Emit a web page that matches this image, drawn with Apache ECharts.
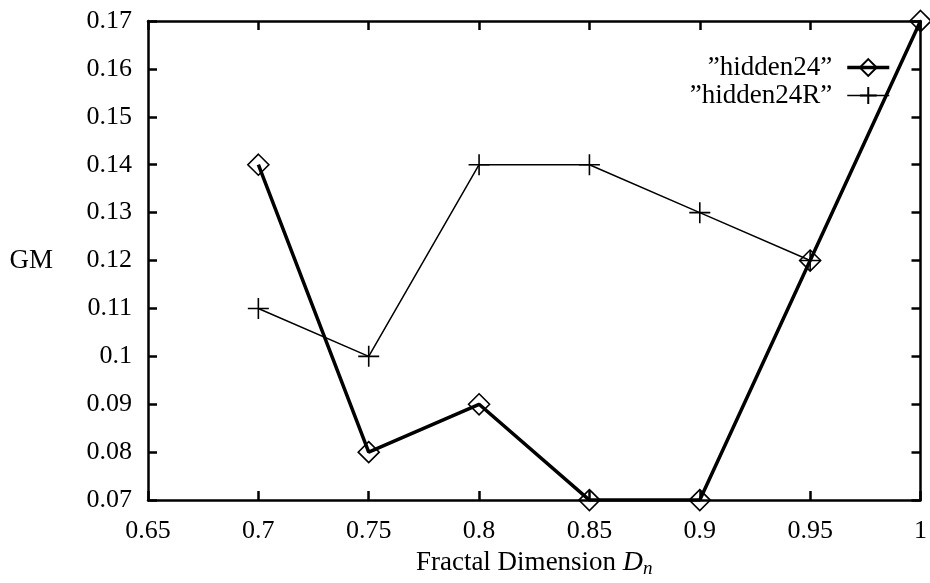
<!DOCTYPE html>
<html><head><meta charset="utf-8">
<script src="https://cdn.jsdelivr.net/npm/echarts@6/dist/echarts.min.js"></script>
<style>html,body{margin:0;padding:0;background:#fff}#c{width:930px;height:583px}</style>
</head><body><div id="c"></div>
<script>
const xValues = [0.7, 0.75, 0.8, 0.85, 0.9, 0.95, 1.0];
const hidden24 = [0.14, 0.08, 0.09, 0.07, 0.07, 0.12, 0.17];
const hidden24R = [0.11, 0.10, 0.14, 0.14, 0.13, 0.12];
const seriesNames = ['\u201dhidden24\u201d', '\u201dhidden24R\u201d'];

const FONT = 'Liberation Serif';
const fmt = v => String(+(+v).toFixed(2));
const pair = (xs, ys) => ys.map((y, i) => [xs[i], y]);

const chart = echarts.init(document.getElementById('c'));
const axisLine = {show: true, lineStyle: {color: '#000', width: 2.5}};
const axisTick = {show: true, inside: true, length: 9, lineStyle: {color: '#000', width: 2.5}};
chart.setOption({
  backgroundColor: '#fff',
  animation: false,
  grid: {left: 148, right: 7, top: 21, bottom: 75},
  legend: {
    orient: 'vertical', right: 34, top: 49, align: 'right',
    itemWidth: 42, itemHeight: 21, itemGap: 1,
    textStyle: {fontFamily: FONT, fontSize: 27, color: '#000', padding: [0, 10, 0, 0]},
    data: [
      {name: seriesNames[0], lineStyle: {width: 3.5}},
      {name: seriesNames[1], lineStyle: {width: 1.5}}
    ]
  },
  xAxis: [{
    type: 'value', min: 0.65, max: 1, interval: 0.05,
    axisLine, axisTick, splitLine: {show: false},
    axisLabel: {formatter: fmt, fontFamily: FONT, fontSize: 26, color: '#000', margin: 18},
    name: 'Fractal Dimension {i|D}{s|n}', nameLocation: 'middle', nameGap: 47,
    nameTextStyle: {fontFamily: FONT, fontSize: 27, color: '#000',
      rich: {i: {fontFamily: FONT, fontStyle: 'italic', fontSize: 28, color: '#000'},
             s: {fontFamily: FONT, fontStyle: 'italic', fontSize: 19, color: '#000', padding: [11, 0, 0, 0]}}}
  }, {
    type: 'value', position: 'top', min: 0.65, max: 1, interval: 0.05,
    axisLine, axisTick, axisLabel: {show: false}, splitLine: {show: false}
  }],
  yAxis: [{
    type: 'value', min: 0.07, max: 0.17, interval: 0.01,
    axisLine, axisTick, splitLine: {show: false},
    axisLabel: {formatter: fmt, fontFamily: FONT, fontSize: 26, color: '#000', margin: 16},
    name: 'GM', nameLocation: 'middle', nameRotate: 0, nameGap: 95,
    nameTextStyle: {fontFamily: FONT, fontSize: 27, color: '#000'}
  }, {
    type: 'value', position: 'right', min: 0.07, max: 0.17, interval: 0.01,
    axisLine, axisTick, axisLabel: {show: false}, splitLine: {show: false}
  }],
  series: [{
    name: seriesNames[0], type: 'line', data: pair(xValues, hidden24),
    symbol: 'diamond', symbolSize: 21, showSymbol: true,
    lineStyle: {color: '#000', width: 3.5},
    itemStyle: {color: 'rgba(0,0,0,0)', borderColor: '#000', borderWidth: 1.6},
    z: 3
  }, {
    name: seriesNames[1], type: 'line', data: pair(xValues, hidden24R),
    symbol: 'path://M0,10L20,10M10,0L10,20', symbolSize: 21, showSymbol: true,
    lineStyle: {color: '#000', width: 1.5},
    itemStyle: {color: 'rgba(0,0,0,0)', borderColor: '#000', borderWidth: 1.6},
    z: 2
  }]
});
</script></body></html>
